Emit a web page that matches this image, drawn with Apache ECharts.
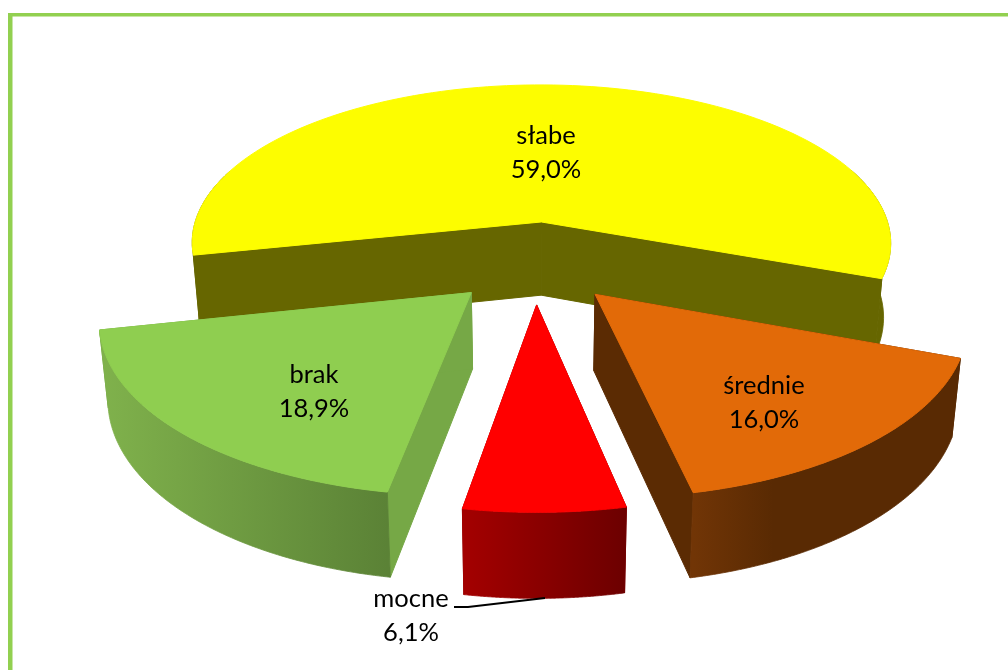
<!DOCTYPE html>
<html>
<head>
<meta charset="utf-8">
<title>wykres</title>
<script src="https://cdn.jsdelivr.net/npm/echarts@6/dist/echarts.min.js"></script>
<style>
	html, body { margin: 0; padding: 0; background: #fff; }
	#main { width: 1008px; height: 670px; }
</style>
</head>
<body>
<div id="main"></div>
<script>
// dane, w kolejnosci zgodnej z ruchem wskazowek zegara
var categories = ['słabe', 'średnie', 'mocne', 'brak'];
var shares = [59.0, 16.0, 6.1, 18.9];

// kolory scian kazdego wycinka
var topColors = ['#FDFD00', '#E26A08', '#FF0000', '#8FCE50'];
var sideColors = ['#666600', '#5B2B03', '#8A0000', '#76A846'];
var rimFrom = ['#666600', '#713506', '#A40000', '#80B24C'];
var rimTo = ['#666600', '#592A03', '#6C0000', '#5B8236'];
var rimSpan = [1, 0.3, 1, 1];

// srodki podpisow w pikselach
var labelX = [546, 764, 411, 314];
var labelY = [153, 403, 616, 392];

// parametry rzutu perspektywicznego
var cx = 535, cy = 262;
var rx = 358, ry = 166;
var persp = 0.137;
var explode = 0.25;
var firstAngle = -102;
var depth = 75;
var depthPower = 0.73;
var shrink = 0.98;

function project(x, z, h) {
	var s = 1 / (1 - persp * z);
	var px = rx * x * s;
	var py = ry * z * s;
	if (h) {
		return [cx + px * shrink, cy + py + depth * Math.pow(s, depthPower)];
	}
	return [cx + px, cy + py];
}

function sliceStart(index) {
	var a = firstAngle;
	for (var i = 0; i < index; i++) {
		a += shares[i] * 3.6;
	}
	return a;
}

function renderSlice(params, api) {
	var i = params.dataIndex;
	var sweep = api.value(0) * 3.6;
	var start = sliceStart(i);
	var mid = (start + sweep / 2) * Math.PI / 180;
	var ox = Math.sin(mid) * explode;
	var oz = -Math.cos(mid) * explode;

	var topArc = [], lowArc = [];
	var runs = [], run = null;
	var minX = Infinity, maxX = -Infinity;
	for (var k = 0; k <= 120; k++) {
		var a = (start + sweep * k / 120) * Math.PI / 180;
		var x = ox + Math.sin(a);
		var z = oz - Math.cos(a);
		var p = project(x, z, false);
		var q = project(x, z, true);
		topArc.push(p);
		lowArc.push(q);
		minX = Math.min(minX, p[0]);
		maxX = Math.max(maxX, p[0]);
		// tylna czesc luku jest niewidoczna, zostaja tylko odcinki z przodu
		if (Math.cos(a) < 0.35) {
			if (!run) {
				run = { top: [], low: [] };
				runs.push(run);
			}
			run.top.push(p);
			run.low.push(q);
		} else {
			run = null;
		}
	}
	var apex = project(ox, oz, false);
	var apexLow = project(ox, oz, true);

	var children = [];
	function side(points) {
		children.push({
			type: 'polygon',
			shape: { points: points },
			style: { fill: sideColors[i], stroke: sideColors[i], lineWidth: 1 }
		});
	}
	side([apex, topArc[0], lowArc[0], apexLow]);
	side([apex, topArc[120], lowArc[120], apexLow]);

	var rimFill = new echarts.graphic.LinearGradient(minX, 0, maxX, 0, [
		{ offset: 0, color: rimFrom[i] },
		{ offset: rimSpan[i], color: rimTo[i] },
		{ offset: 1, color: rimTo[i] }
	], true);
	runs.forEach(function(r) {
		children.push({
			type: 'polygon',
			shape: { points: r.top.concat(r.low.slice().reverse()) },
			style: { fill: rimFill, stroke: rimFill, lineWidth: 0.8 }
		});
	});
	children.push({
		type: 'polygon',
		shape: { points: [apex].concat(topArc) },
		style: { fill: topColors[i], stroke: topColors[i], lineWidth: 1 }
	});

	children.push({
		type: 'text',
		style: {
			x: labelX[i],
			y: labelY[i],
			text: categories[i] + '\n' + api.value(0).toFixed(1).replace('.', ',') + '%',
			font: '25.5px Lato',
			lineHeight: 34,
			fill: '#000',
			align: 'center',
			verticalAlign: 'middle'
		}
	});
	return { type: 'group', children: children };
}

var myChart = echarts.init(document.getElementById('main'));

var option = {
	backgroundColor: '#fff',
	animation: false,
	graphic: [
		{ type: 'rect', shape: { x: 8, y: 13, width: 1000, height: 3.5 }, style: { fill: '#92D050' } },
		{ type: 'rect', shape: { x: 8, y: 13, width: 4.5, height: 657 }, style: { fill: '#92D050' } },
		// linia odniesienia podpisu "mocne"
		{ type: 'polyline', z: 10, shape: { points: [[454, 607], [468, 607], [545, 598]] }, style: { stroke: '#000', lineWidth: 2, fill: null } }
	],
	series: [{
		type: 'custom',
		coordinateSystem: 'none',
		renderItem: renderSlice,
		data: shares.map(function(v) {
			return [v];
		})
	}]
};
myChart.setOption(option);
</script>
</body>
</html>
